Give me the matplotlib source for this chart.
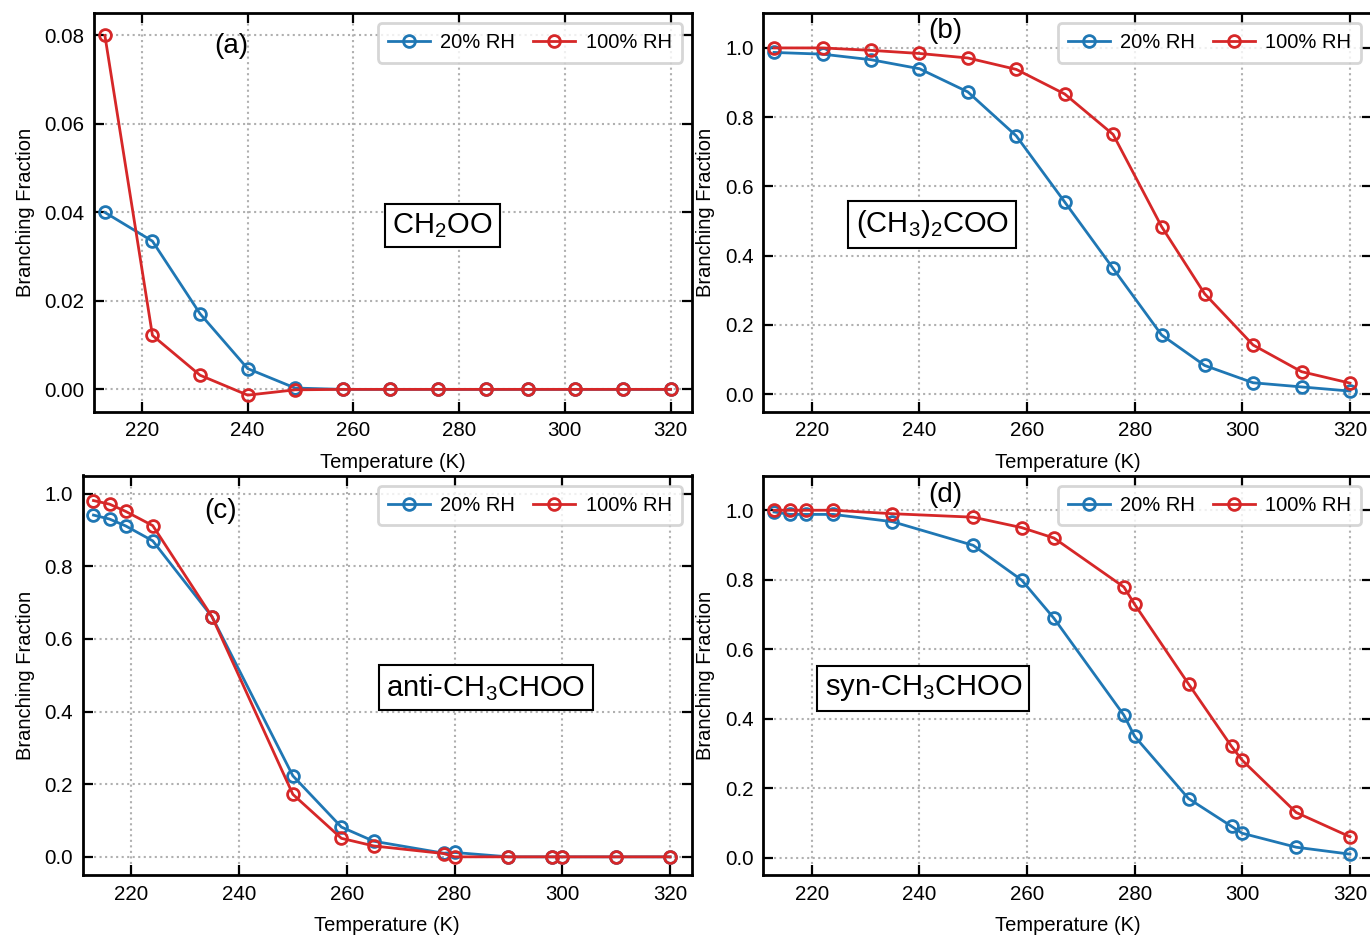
import matplotlib
matplotlib.use("Agg")
import matplotlib.pyplot as plt

plt.rcParams['font.family'] = ['Liberation Sans', 'DejaVu Sans']
plt.rcParams['mathtext.fontset'] = 'custom'
plt.rcParams['mathtext.rm'] = 'Liberation Sans'
plt.rcParams['mathtext.it'] = 'Liberation Sans:italic'

# =========================
# DATA
# =========================
# panels (a) and (b) share one temperature grid
temp_ab = [213, 222, 231, 240, 249, 258, 267, 276, 285, 293, 302, 311, 320]
# panels (c) and (d) share another
temp_cd = [213, 216, 219, 224, 235, 250, 259, 265, 278, 280, 290, 298, 300, 310, 320]

ch2oo_20 = [0.040, 0.0335, 0.0171, 0.0047, 0.0003, 0, 0, 0, 0, 0, 0, 0, 0]
ch2oo_100 = [0.080, 0.0122, 0.0032, -0.0013, -0.0001, 0, 0, 0, 0, 0, 0, 0, 0]

dmcoo_20 = [0.987, 0.982, 0.966, 0.940, 0.873, 0.746, 0.555, 0.363, 0.171,
            0.083, 0.033, 0.021, 0.009]
dmcoo_100 = [1.0, 1.0, 0.993, 0.984, 0.971, 0.938, 0.867, 0.750, 0.484,
             0.290, 0.142, 0.065, 0.032]

anti_20 = [0.941, 0.930, 0.911, 0.870, 0.661, 0.223, 0.082, 0.043, 0.010,
           0.012, 0, 0, 0, 0, 0]
anti_100 = [0.981, 0.971, 0.951, 0.912, 0.661, 0.172, 0.051, 0.030, 0.009,
            0, 0, 0, 0, 0, 0]

syn_20 = [0.995, 0.988, 0.988, 0.988, 0.967, 0.899, 0.799, 0.689, 0.410,
          0.349, 0.170, 0.090, 0.070, 0.030, 0.010]
syn_100 = [1.0, 1.0, 1.0, 1.0, 0.990, 0.980, 0.950, 0.920, 0.779,
           0.729, 0.500, 0.320, 0.280, 0.130, 0.060]

series_labels = ["20% RH", "100% RH"]
blue = "#1f77b4"
red = "#d62728"

fig = plt.figure(figsize=(13.7, 9.35), dpi=100)

W, H = 1370.0, 935.0


def make_axes(left, top, right, bottom):
    return fig.add_axes([left / W, 1 - bottom / H, (right - left) / W, (bottom - top) / H])


def draw_panel(ax, temp, y20, y100, ylim, yticks, yfmt, tag, tag_pos, name, name_pos):
    ax.plot(temp, y20, color=blue, marker='o', mfc='none', ms=8.5, mew=2.0, lw=2.0,
            label=series_labels[0], zorder=3)
    ax.plot(temp, y100, color=red, marker='o', mfc='none', ms=8.5, mew=2.0, lw=2.0,
            label=series_labels[1], zorder=4)
    ax.set_xlim(211, 324)
    ax.set_ylim(*ylim)
    ax.set_xticks([220, 240, 260, 280, 300, 320])
    ax.set_yticks(yticks)
    ax.set_yticklabels([yfmt % v for v in yticks])
    ax.grid(True, linestyle=':', color='#b0b0b0', linewidth=1.5)
    ax.set_axisbelow(True)
    ax.tick_params(direction='in', length=7, width=1.6, top=True, right=True,
                   labelsize=14.8, pad=7)
    for s in ax.spines.values():
        s.set_linewidth(2.0)
    ax.set_xlabel("Temperature (K)", fontsize=14.5, labelpad=9)
    ax.set_ylabel("Branching Fraction", fontsize=14.5, labelpad=7)
    leg = ax.legend(loc='upper right', ncol=2, fontsize=14.5, handlelength=2.1,
                    handletextpad=0.5, columnspacing=0.9, borderaxespad=0.5,
                    borderpad=0.5, fancybox=True, framealpha=0.8, edgecolor='#cccccc')
    leg.get_frame().set_linewidth(2.0)
    ax.text(tag_pos[0], tag_pos[1], tag, transform=ax.transAxes, fontsize=20,
            ha='center', va='center')
    ax.text(name_pos[0], name_pos[1], name, transform=ax.transAxes, fontsize=21,
            ha='center', va='center',
            bbox=dict(boxstyle='square,pad=0.25', fc='white', ec='black', lw=1.5))


ax_a = make_axes(94.3, 13.3, 691.7, 411.5)
ax_b = make_axes(763.3, 13.3, 1371.5, 411.5)
ax_c = make_axes(82.7, 475.5, 691.7, 875.0)
ax_d = make_axes(763.3, 475.5, 1371.5, 875.0)

draw_panel(ax_a, temp_ab, ch2oo_20, ch2oo_100, (-0.005, 0.085),
           [0.0, 0.02, 0.04, 0.06, 0.08], "%.2f",
           "(a)", (0.229, 0.917), r"CH$\mathregular{_2}$OO", (0.583, 0.467))
draw_panel(ax_b, temp_ab, dmcoo_20, dmcoo_100, (-0.05, 1.10),
           [0.0, 0.2, 0.4, 0.6, 0.8, 1.0], "%.1f",
           "(b)", (0.30, 0.955), r"(CH$\mathregular{_3}$)$\mathregular{_2}$COO", (0.278, 0.47))
draw_panel(ax_c, temp_cd, anti_20, anti_100, (-0.05, 1.05),
           [0.0, 0.2, 0.4, 0.6, 0.8, 1.0], "%.1f",
           "(c)", (0.227, 0.912), r"anti-CH$\mathregular{_3}$CHOO", (0.662, 0.47))
draw_panel(ax_d, temp_cd, syn_20, syn_100, (-0.05, 1.10),
           [0.0, 0.2, 0.4, 0.6, 0.8, 1.0], "%.1f",
           "(d)", (0.30, 0.952), r"syn-CH$\mathregular{_3}$CHOO", (0.263, 0.467))

fig.savefig("out.png", dpi=100)
